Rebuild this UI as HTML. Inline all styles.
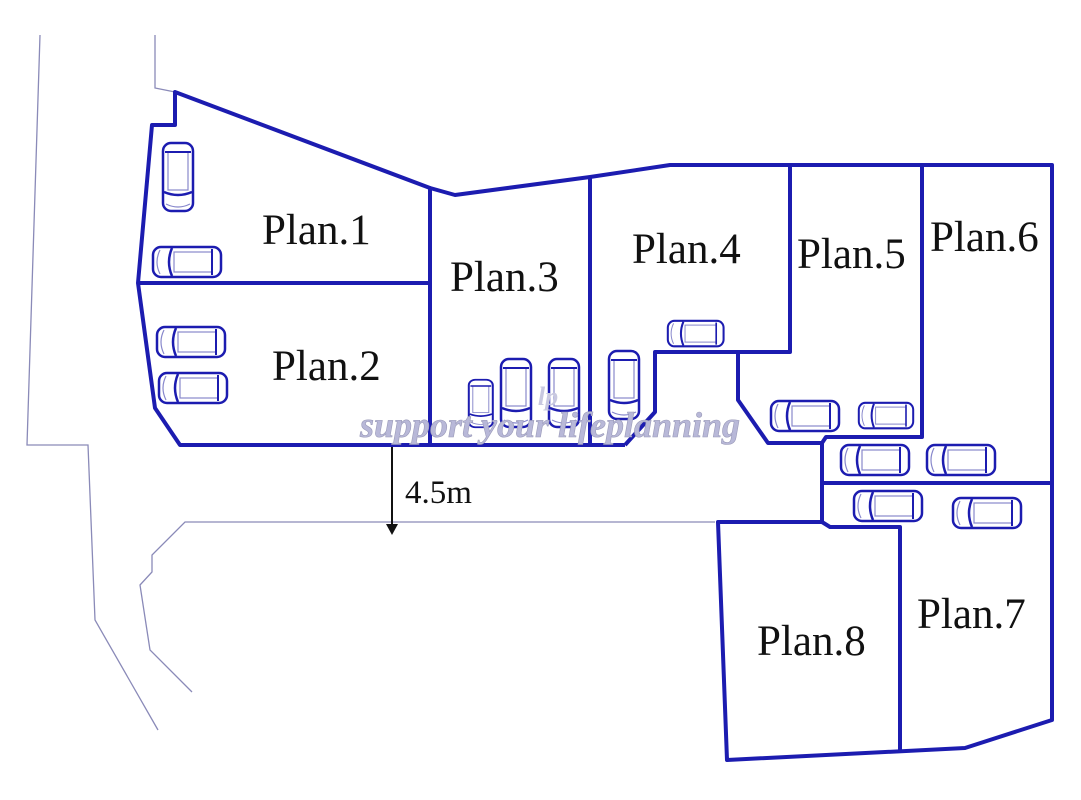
<!DOCTYPE html>
<html><head><meta charset="utf-8"><style>
html,body{margin:0;padding:0;background:#fff;}
svg{display:block}
.t{font-family:"Liberation Serif",serif;font-size:43px;fill:#111}
</style></head><body>
<svg width="1081" height="800" viewBox="0 0 1081 800" xmlns="http://www.w3.org/2000/svg">
<defs>
<g id="car">
<rect x="1" y="1" width="68" height="30" rx="8" fill="#fff" stroke="#1c1cb0" stroke-width="2.5"/>
<path d="M20 2 Q14 16 20 30" fill="none" stroke="#1c1cb0" stroke-width="2.5"/>
<path d="M8 4 Q2 16 8 28" fill="none" stroke="#8888cc" stroke-width="1.2"/>
<rect x="22" y="6" width="38" height="20" fill="none" stroke="#8888cc" stroke-width="1.2"/>
<line x1="60" y1="3" x2="60" y2="29" stroke="#1c1cb0" stroke-width="2"/>
</g>
</defs>
<g fill="none" stroke="#8a8ab8" stroke-width="1.3">
<polyline points="40,35 27,445 88,445 95,620 158,730"/>
<polyline points="155,35 155,88 175,92"/>
<polyline points="715,522 185,522 152,555 152,572 140,585 150,650 192,692"/>
</g>
<g fill="none" stroke="#1c1cb0" stroke-width="4" stroke-linejoin="round">
<polygon points="175,92 430,188 430,445 180,445 155,408 138,283 152,125 175,125"/>
<line x1="138" y1="283" x2="430" y2="283"/>
<polyline points="430,188 455,195 590,177 670,165 1052,165 1052,720 965,748 727,760 718,522 822,522"/>
<line x1="430" y1="445" x2="625" y2="445"/>
<line x1="590" y1="177" x2="590" y2="445"/>
<polyline points="625,445 655,412 655,352 790,352 790,167"/>
<polyline points="738,352 738,400 768,443 822,443 822,522 830,527 900,527 900,752"/>
<polyline points="822,443 826,437 922,437 922,167"/>
<line x1="822" y1="483" x2="1052" y2="483"/>
</g>
<line x1="392" y1="447" x2="392" y2="528" stroke="#111" stroke-width="2"/>
<polygon points="386,524 398,524 392,535" fill="#111"/>
<text x="405" y="503" class="t" style="font-size:33px">4.5m</text>
<g>
<use href="#car" x="152" y="246"/>
<use href="#car" x="156" y="326"/>
<use href="#car" x="158" y="372"/>
<use href="#car" transform="translate(667,320) scale(0.82,0.85)"/>
<use href="#car" x="770" y="400"/>
<use href="#car" transform="translate(858,402) scale(0.8,0.85)"/>
<use href="#car" x="840" y="444"/>
<use href="#car" x="926" y="444"/>
<use href="#car" x="853" y="490"/>
<use href="#car" x="952" y="497"/>
<use href="#car" transform="translate(162,212) rotate(-90)"/>
<use href="#car" transform="translate(468,428) rotate(-90) scale(0.7,0.8)"/>
<use href="#car" transform="translate(500,428) rotate(-90)"/>
<use href="#car" transform="translate(548,428) rotate(-90)"/>
<use href="#car" transform="translate(608,420) rotate(-90)"/>
</g>
<text x="262" y="244" class="t">Plan.1</text>
<text x="272" y="380" class="t">Plan.2</text>
<text x="450" y="291" class="t">Plan.3</text>
<text x="632" y="263" class="t">Plan.4</text>
<text x="797" y="268" class="t">Plan.5</text>
<text x="930" y="251" class="t">Plan.6</text>
<text x="917" y="628" class="t">Plan.7</text>
<text x="757" y="655" class="t">Plan.8</text>
<text x="550" y="437" text-anchor="middle" style="font-family:'Liberation Serif',serif;font-style:italic;font-weight:bold;font-size:36px;fill:#b8b8d8;stroke:#9a9ab8;stroke-width:0.6">support your lifeplanning</text>
<text x="548" y="405" text-anchor="middle" style="font-family:'Liberation Serif',serif;font-style:italic;font-weight:bold;font-size:26px;fill:#c8c8e0">lp</text>
</svg>
</body></html>
